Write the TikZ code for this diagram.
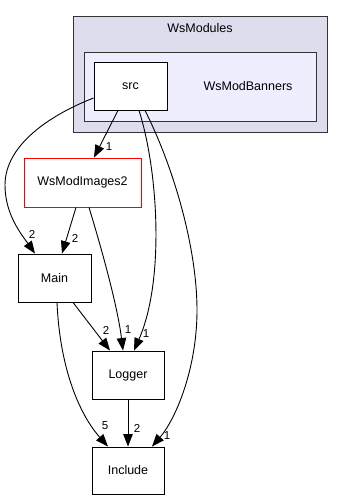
\documentclass[tikz,border=0pt]{standalone}
\usepackage{fontspec}
\setmainfont{Liberation Sans}
\usetikzlibrary{arrows.meta}
\definecolor{outerfill}{HTML}{DDDDEE}
\definecolor{innerfill}{HTML}{EEEEFF}
\tikzset{
  dirbox/.style={draw=black, fill=white, line width=0.9pt, minimum width=73pt, minimum height=48pt, inner sep=0pt, font=\fontsize{12.5}{14}\selectfont},
  clusterbox/.style={draw=black!80, line width=0.9pt},
  dep/.style={draw=black, line width=0.9pt, -{Triangle[length=12.5pt,width=9.5pt]}},
  lbl/.style={inner sep=0pt, font=\fontsize{11.5}{13}\selectfont},
  plain/.style={inner sep=0pt, font=\fontsize{12.5}{14}\selectfont}
}
\begin{document}
\begin{tikzpicture}[x=1pt,y=-1pt]
\useasboundingbox (0,0) rectangle (343,500);
% clusters
\draw[clusterbox, fill=outerfill] (73,16) rectangle (327,132);
\node[plain] (wsmodules) at (200,28) {WsModules};
\draw[clusterbox, fill=innerfill] (84,52) rectangle (316,121);
\node[plain] (wsmodbanners) at (248,86) {WsModBanners};
% directories
\node[dirbox] (src) at (130.5,86) {src};
\node[dirbox, draw=red, minimum width=117pt, minimum height=49pt] (img) at (82.5,182.5) {WsModImages2};
\node[dirbox] (main) at (54.5,278) {Main};
\node[dirbox, minimum width=72pt] (logger) at (128,375) {Logger};
\node[dirbox, minimum width=72pt, minimum height=47pt] (include) at (128,470.5) {Include};
% dependencies
\draw[dep] ([xshift=-12.5pt]src.south) -- ([xshift=11.5pt]img.north);
\draw[dep] ([yshift=-12pt]src.west) .. controls (50,115) and (5,145) .. (5,185)
  .. controls (5,215) and (22,235) .. ([xshift=-19.5pt]main.north);
\draw[dep] ([xshift=-6.5pt]img.south) -- ([xshift=7.5pt]main.north);
\draw[dep] ([xshift=6.5pt]img.south) .. controls (105,260) and (118,310) .. ([xshift=-5pt]logger.north);
\draw[dep] ([xshift=8.5pt]src.south) .. controls (158,170) and (165,280) .. ([xshift=6pt]logger.north);
\draw[dep] ([xshift=14.5pt]src.south) .. controls (175,170) and (197,250) .. (197,310)
  .. controls (197,370) and (175,420) .. ([xshift=24pt]include.north);
\draw[dep] ([xshift=18.5pt]main.south) -- ([xshift=-18pt]logger.north);
\draw[dep] ([xshift=2.5pt]main.south) .. controls (60,370) and (80,415) .. ([xshift=-20pt]include.north);
\draw[dep] (logger.south) -- (include.north);
% dependency counts
\node[lbl] (c1) at (109,147) {1};
\node[lbl] (c2) at (32,234) {2};
\node[lbl] (c3) at (75,238) {2};
\node[lbl] (c4) at (128,330) {1};
\node[lbl] (c5) at (146,334) {1};
\node[lbl] (c6) at (106,330) {2};
\node[lbl] (c7) at (105,426) {5};
\node[lbl] (c8) at (137,428) {2};
\node[lbl] (c9) at (167,436) {1};
\end{tikzpicture}
\end{document}
